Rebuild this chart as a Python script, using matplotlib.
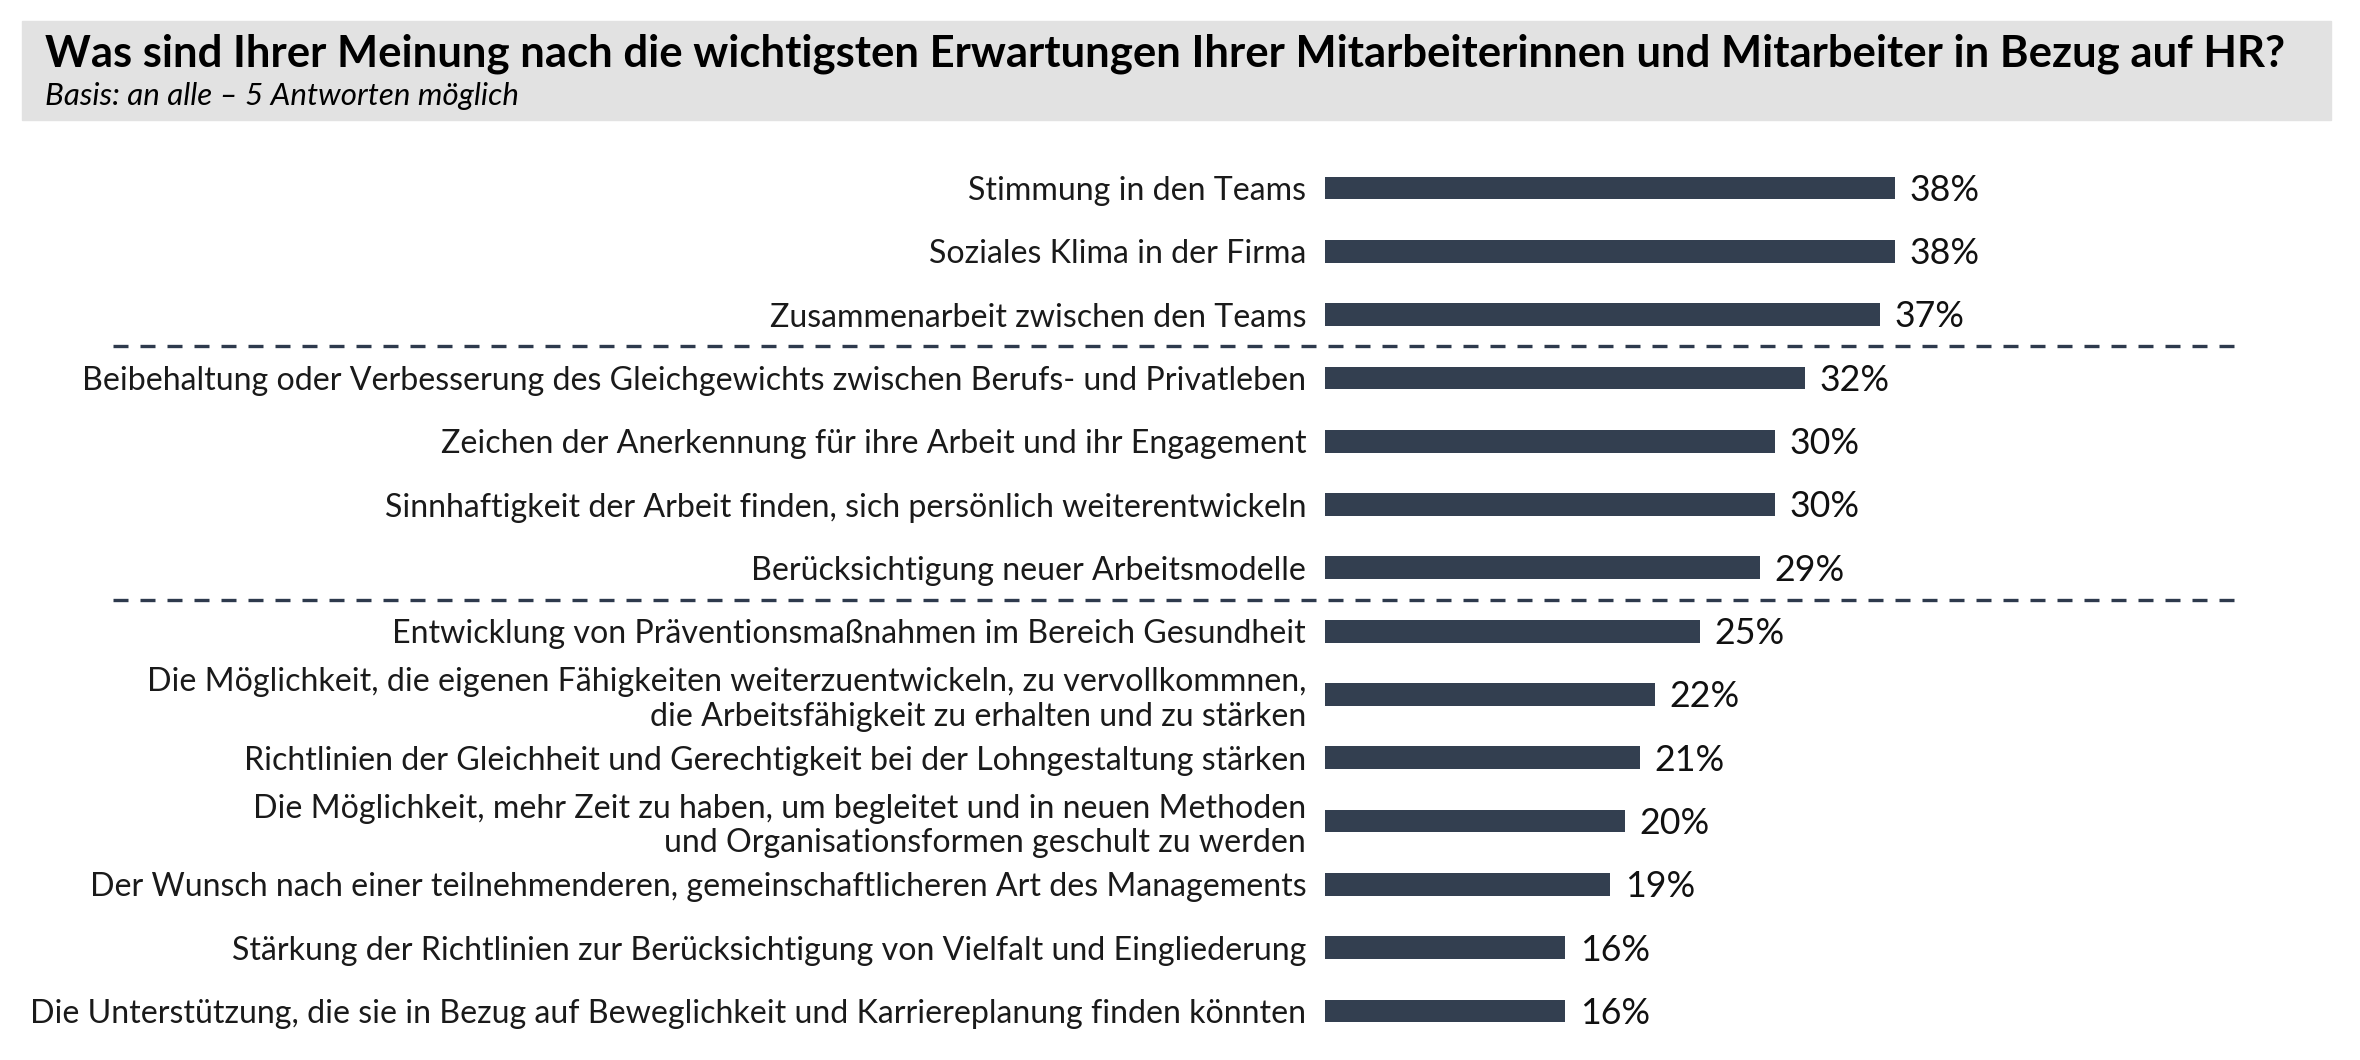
import matplotlib
matplotlib.use('Agg')
import matplotlib.pyplot as plt
from matplotlib.patches import Rectangle
from matplotlib.transforms import blended_transform_factory

plt.rcParams['font.family'] = ['Lato', 'DejaVu Sans']

#=====================================================================
# data

title = "Was sind Ihrer Meinung nach die wichtigsten Erwartungen Ihrer Mitarbeiterinnen und Mitarbeiter in Bezug auf HR?"
subtitle = "Basis: an alle \u2013 5 Antworten möglich"

labels = [
    "Stimmung in den Teams",
    "Soziales Klima in der Firma",
    "Zusammenarbeit zwischen den Teams",
    "Beibehaltung oder Verbesserung des Gleichgewichts zwischen Berufs- und Privatleben",
    "Zeichen der Anerkennung für ihre Arbeit und ihr Engagement",
    "Sinnhaftigkeit der Arbeit finden, sich persönlich weiterentwickeln",
    "Berücksichtigung neuer Arbeitsmodelle",
    "Entwicklung von Präventionsmaßnahmen im Bereich Gesundheit",
    "Die Möglichkeit, die eigenen Fähigkeiten weiterzuentwickeln, zu vervollkommnen,\ndie Arbeitsfähigkeit zu erhalten und zu stärken",
    "Richtlinien der Gleichheit und Gerechtigkeit bei der Lohngestaltung stärken",
    "Die Möglichkeit, mehr Zeit zu haben, um begleitet und in neuen Methoden\nund Organisationsformen geschult zu werden",
    "Der Wunsch nach einer teilnehmenderen, gemeinschaftlicheren Art des Managements",
    "Stärkung der Richtlinien zur Berücksichtigung von Vielfalt und Eingliederung",
    "Die Unterstützung, die sie in Bezug auf Beweglichkeit und Karriereplanung finden könnten",
]
values = [38, 38, 37, 32, 30, 30, 29, 25, 22, 21, 20, 19, 16, 16]
group_breaks = [2.5, 6.5]   # dashed separators between groups

#=====================================================================

W, H = 2360, 1060
bar_color = '#333f50'

fig = plt.figure(figsize=(W / 100, H / 100), dpi=100)

# grey header box
fig.patches.append(Rectangle((22 / W, 1 - 120 / H), 2309 / W, 99 / H,
                             transform=fig.transFigure, color='#e2e2e2', zorder=0))
t_title = fig.text(45 / W, 1 - 67 / H, title, fontsize=20, fontweight='bold',
                   va='baseline', ha='left', color='#000000')
t_sub = fig.text(45 / W, 1 - 105 / H, subtitle, fontsize=16, style='italic',
                 va='baseline', ha='left', color='#000000')

n = len(labels)
px_per_pct = 15.0
ax_left, ax_right = 1325, 2250
step = (1011 - 188) / (n - 1)
ax_top = 188 - step / 2
ax_bot = 1011 + step / 2
ax = fig.add_axes([ax_left / W, 1 - ax_bot / H, (ax_right - ax_left) / W, (ax_bot - ax_top) / H])
ax.set_xlim(0, (ax_right - ax_left) / px_per_pct)
ax.set_ylim(n - 0.5, -0.5)

pos = list(range(n))
ax.barh(pos, values, height=0.36, color=bar_color)
ax.set_yticks(pos, labels)
ax.tick_params(axis='y', length=0, pad=13.5, labelcolor='#1a1a1a', labelsize=26)
for tl in ax.get_yticklabels():
    tl.set_linespacing(1.17)
ax.set_xticks([])
for s in ax.spines.values():
    s.set_visible(False)

val_texts = []
for p, v in zip(pos, values):
    val_texts.append(ax.annotate(f"{v}%", (v, p), xytext=(10.5, 0), textcoords='offset points',
                                 va='baseline', ha='left', fontsize=28, color='#111111'))

# dashed separators spanning from the labels to the right side
tr = blended_transform_factory(fig.transFigure, ax.transData)
for b in group_breaks:
    ax.plot([113 / W, 2243 / W], [b, b], transform=tr, color='#2e3a4d', lw=2.4,
            ls=(0, (4.5, 3.6)), clip_on=False)

# fit font sizes to the widths measured on the reference
renderer = fig.canvas.get_renderer()

def fit(t, target):
    w = t.get_window_extent(renderer).width
    t.set_fontsize(t.get_fontsize() * target / w)

fit(t_title, 2238)
fit(t_sub, 474)
longest = ax.get_yticklabels()[3]
w = longest.get_window_extent(renderer).width
ax.tick_params(axis='y', labelsize=26 * 1219 / w)
w = val_texts[0].get_window_extent(renderer).width
fs = 28 * 70 / w
for t in val_texts:
    t.set_fontsize(fs)
    # centre the digits on the bar
    t.xyann = (10.5, -0.36 * fs)

fig.savefig('out.png', dpi=100, facecolor='white')
